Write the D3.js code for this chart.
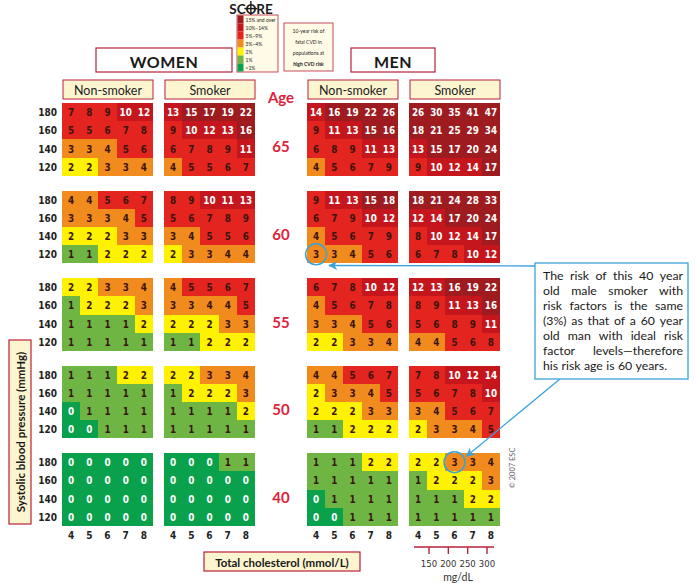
<!DOCTYPE html>
<html>
<head>
<meta charset="utf-8">
<script src="https://d3js.org/d3.v7.min.js"></script>
<style>
  body { margin: 0; background: #fff; }
  svg text { font-family: Lato, "Open Sans", sans-serif; }
  .num { font-family: "DejaVu Sans Condensed", "Open Sans", sans-serif; font-weight: bold; font-size: 9.8px; }
</style>
</head>
<body>
<script>
// rows = systolic 180,160,140,120 ; cols = cholesterol 4..8 ; one block per age
var ages = [65, 60, 55, 50, 40];
var pressures = [180, 160, 140, 120];
var cholesterol = [4, 5, 6, 7, 8];
var mgTicks = [150, 200, 250, 300];

var womenNonSmoker = [
  [[7,8,9,10,12],[5,5,6,7,8],[3,3,4,5,6],[2,2,3,3,4]],
  [[4,4,5,6,7],[3,3,3,4,5],[2,2,2,3,3],[1,1,2,2,2]],
  [[2,2,3,3,4],[1,2,2,2,3],[1,1,1,1,2],[1,1,1,1,1]],
  [[1,1,1,2,2],[1,1,1,1,1],[0,1,1,1,1],[0,0,1,1,1]],
  [[0,0,0,0,0],[0,0,0,0,0],[0,0,0,0,0],[0,0,0,0,0]]
];
var womenSmoker = [
  [[13,15,17,19,22],[9,10,12,13,16],[6,7,8,9,11],[4,5,5,6,7]],
  [[8,9,10,11,13],[5,6,7,8,9],[3,4,5,5,6],[2,3,3,4,4]],
  [[4,5,5,6,7],[3,3,4,4,5],[2,2,2,3,3],[1,1,2,2,2]],
  [[2,2,3,3,4],[1,2,2,2,3],[1,1,1,1,2],[1,1,1,1,1]],
  [[0,0,0,1,1],[0,0,0,0,0],[0,0,0,0,0],[0,0,0,0,0]]
];
var menNonSmoker = [
  [[14,16,19,22,26],[9,11,13,15,16],[6,8,9,11,13],[4,5,6,7,9]],
  [[9,11,13,15,18],[6,7,9,10,12],[4,5,6,7,9],[3,3,4,5,6]],
  [[6,7,8,10,12],[4,5,6,7,8],[3,3,4,5,6],[2,2,3,3,4]],
  [[4,4,5,6,7],[2,3,3,4,5],[2,2,2,3,3],[1,1,2,2,2]],
  [[1,1,1,2,2],[1,1,1,1,1],[0,1,1,1,1],[0,0,1,1,1]]
];
var menSmoker = [
  [[26,30,35,41,47],[18,21,25,29,34],[13,15,17,20,24],[9,10,12,14,17]],
  [[18,21,24,28,33],[12,14,17,20,24],[8,10,12,14,17],[6,7,8,10,12]],
  [[12,13,16,19,22],[8,9,11,13,16],[5,6,8,9,11],[4,4,5,6,8]],
  [[7,8,10,12,14],[5,6,7,8,10],[3,4,5,6,7],[2,3,3,4,5]],
  [[2,2,3,3,4],[1,2,2,2,3],[1,1,1,2,2],[1,1,1,1,1]]
];

var legendLabels = ["15% and over", "10%\u201314%", "5%\u20139%", "3%\u20134%", "2%", "1%", "<1%"];
var legendColors = ["#9e1b20", "#c4161c", "#e3241f", "#f18b1e", "#fff200", "#6fb544", "#0aa14c"];
var riskNote = ["10-year risk of", "fatal CVD in", "populations at", "high CVD risk"];
var noteLines = [
  "The risk of this 40 year",
  "old male smoker with",
  "risk factors is the same",
  "(3%) as that of a 60 year",
  "old man with ideal risk",
  "factor levels\u2014therefore",
  "his risk age is 60 years."
];

var W = 697, H = 583;
var boxRed = "#b8213a", cream = "#fdf5d0", ageRed = "#e0213a", blue = "#3aa3d8";

var svg = d3.select("body").append("svg")
  .attr("width", W).attr("height", H);

var color = d3.scaleThreshold()
  .domain([1, 2, 3, 5, 10, 15])
  .range(legendColors.slice().reverse());

var yAge = d3.scaleBand().domain(ages).range([103, 526]).paddingInner(0.166);
var yRow = d3.scaleBand().domain(pressures).range([0, yAge.bandwidth()]);

var panels = [
  { title: "Non-smoker", data: womenNonSmoker, x0: 62 },
  { title: "Smoker", data: womenSmoker, x0: 164 },
  { title: "Non-smoker", data: menNonSmoker, x0: 307 },
  { title: "Smoker", data: menSmoker, x0: 409 }
];
var panelW = 91;

panels.forEach(function (p) {
  var x = d3.scaleBand().domain(cholesterol).range([p.x0, p.x0 + panelW]);
  p.x = x;

  // header box
  svg.append("rect")
    .attr("x", p.x0 + 1).attr("y", 80).attr("width", panelW - 1).attr("height", 19)
    .attr("fill", cream).attr("stroke", boxRed).attr("stroke-width", 1);
  svg.append("text")
    .attr("x", p.x0 + panelW / 2 + 0.5).attr("y", 90)
    .attr("text-anchor", "middle").attr("dominant-baseline", "central")
    .style("font-size", "12.5px").style("fill", "#222")
    .text(p.title);

  var cells = [];
  ages.forEach(function (a, ai) {
    pressures.forEach(function (s, si) {
      cholesterol.forEach(function (c, ci) {
        cells.push({ age: a, sbp: s, chol: c, v: p.data[ai][si][ci] });
      });
    });
  });

  var g = svg.append("g");
  // background per block so same-colour cells join without seams
  g.selectAll("rect.cell").data(cells).enter().append("rect")
    .attr("class", "cell")
    .attr("shape-rendering", "crispEdges")
    .attr("x", function (d) { return x(d.chol); })
    .attr("y", function (d) { return yAge(d.age) + yRow(d.sbp); })
    .attr("width", function (d) { return d.chol === 8 ? x.bandwidth() : x.bandwidth() + 1; })
    .attr("height", function (d) { return d.sbp === 120 ? yRow.bandwidth() : yRow.bandwidth() + 1; })
    .attr("fill", function (d) { return color(d.v); });

  g.selectAll("text").data(cells).enter().append("text")
    .attr("class", "num")
    .attr("x", function (d) { return x(d.chol) + x.bandwidth() / 2; })
    .attr("y", function (d) { return yAge(d.age) + yRow(d.sbp) + yRow.bandwidth() / 2 + 0.5; })
    .attr("text-anchor", "middle").attr("dominant-baseline", "central")
    .style("fill", function (d) { return (d.v >= 10 || d.v === 0) ? "#fff" : "#3a1510"; })
    .text(function (d) { return d.v; });

  // cholesterol ticks
  svg.append("g").selectAll("text").data(cholesterol).enter().append("text")
    .attr("class", "num")
    .attr("x", function (d) { return x(d) + x.bandwidth() / 2; })
    .attr("y", 535)
    .attr("text-anchor", "middle").attr("dominant-baseline", "central")
    .style("font-size", "10px").style("fill", "#222")
    .text(function (d) { return d; });
});

// systolic labels
ages.forEach(function (a) {
  svg.append("g").selectAll("text").data(pressures).enter().append("text")
    .attr("class", "num")
    .attr("x", 57)
    .attr("y", function (d) { return yAge(a) + yRow(d) + yRow.bandwidth() / 2 + 0.5; })
    .attr("text-anchor", "end").attr("dominant-baseline", "central")
    .style("font-size", "10px").style("fill", "#222")
    .text(function (d) { return d; });
});

// age labels
svg.append("text")
  .attr("x", 281).attr("y", 97)
  .attr("text-anchor", "middle").attr("dominant-baseline", "central")
  .style("font-size", "15px").style("font-weight", "bold").style("fill", ageRed)
  .text("Age");
svg.append("g").selectAll("text").data(ages).enter().append("text")
  .attr("x", 281)
  .attr("y", function (d) { return yAge(d) + yAge.bandwidth() / 2 + 7; })
  .attr("text-anchor", "middle").attr("dominant-baseline", "central")
  .style("font-size", "15px").style("font-weight", "bold").style("fill", ageRed)
  .text(function (d) { return d; });

// WOMEN / MEN boxes
[{ t: "WOMEN", x: 96, w: 136 }, { t: "MEN", x: 351, w: 84 }].forEach(function (b) {
  svg.append("rect").attr("x", b.x).attr("y", 48).attr("width", b.w).attr("height", 24)
    .attr("fill", "#fff").attr("stroke", boxRed).attr("stroke-width", 1.2);
  svg.append("text").attr("x", b.x + b.w / 2).attr("y", 61)
    .attr("text-anchor", "middle").attr("dominant-baseline", "central")
    .style("font-size", "16px").style("font-weight", "bold").style("fill", "#1a1a1a")
    .style("letter-spacing", "0.5px")
    .text(b.t);
});

// y axis title
svg.append("rect").attr("x", 9).attr("y", 340).attr("width", 22).attr("height", 184)
  .attr("fill", cream).attr("stroke", boxRed).attr("stroke-width", 1.2);
svg.append("text")
  .attr("transform", "translate(20.5,432) rotate(-90)")
  .attr("text-anchor", "middle").attr("dominant-baseline", "central")
  .style("font-size", "11.5px").style("font-weight", "bold").style("fill", "#1a1a1a")
  .text("Systolic blood pressure (mmHg)");

// x axis title
svg.append("rect").attr("x", 204).attr("y", 552).attr("width", 156).attr("height", 19)
  .attr("fill", cream).attr("stroke", boxRed).attr("stroke-width", 1.2);
svg.append("text")
  .attr("x", 282).attr("y", 562)
  .attr("text-anchor", "middle").attr("dominant-baseline", "central")
  .style("font-size", "11.5px").style("font-weight", "bold").style("fill", "#1a1a1a")
  .text("Total cholesterol (mmol/L)");

// mg/dL scale
var mg = d3.scaleLinear().domain([150, 300]).range([429, 487]);
svg.append("line").attr("x1", 414).attr("x2", 494).attr("y1", 547).attr("y2", 547)
  .attr("stroke", boxRed).attr("stroke-width", 1.6);
svg.append("g").selectAll("line").data(mgTicks).enter().append("line")
  .attr("x1", function (d) { return mg(d); }).attr("x2", function (d) { return mg(d); })
  .attr("y1", 547).attr("y2", 554)
  .attr("stroke", boxRed).attr("stroke-width", 1.4);
svg.append("g").selectAll("text").data(mgTicks).enter().append("text")
  .attr("x", function (d) { return mg(d); }).attr("y", 563)
  .attr("text-anchor", "middle").attr("dominant-baseline", "central")
  .style("font-family", "'DejaVu Sans Condensed', sans-serif")
  .style("font-size", "9.5px").style("fill", "#333")
  .text(function (d) { return d; });
svg.append("text").attr("x", 458).attr("y", 577)
  .attr("text-anchor", "middle").attr("dominant-baseline", "central")
  .style("font-size", "10.5px").style("fill", "#333")
  .text("mg/dL");

// copyright
svg.append("text")
  .attr("transform", "translate(512,468) rotate(-90)")
  .attr("text-anchor", "middle").attr("dominant-baseline", "central")
  .style("font-size", "7.5px").style("fill", "#666")
  .text("\u00a9 2007 ESC");

// SCORE title with crosshair O
var st = svg.append("text").attr("x", 251).attr("y", 13.5)
  .attr("text-anchor", "middle")
  .style("font-size", "13.5px").style("font-weight", "bold").style("fill", "#1a1a1a")
  .text("SCORE");
var oBox = st.node().getExtentOfChar(2);
var ocx = oBox.x + oBox.width / 2, ocy = 8.6;
svg.append("line").attr("x1", ocx).attr("x2", ocx).attr("y1", 1).attr("y2", 16)
  .attr("stroke", "#1a1a1a").attr("stroke-width", 1.4);
svg.append("line").attr("x1", oBox.x - 1).attr("x2", oBox.x + oBox.width + 1).attr("y1", ocy).attr("y2", ocy)
  .attr("stroke", "#1a1a1a").attr("stroke-width", 1.4);

// legend
svg.append("rect").attr("x", 237).attr("y", 15).attr("width", 41).attr("height", 57)
  .attr("fill", "#fffbe6").attr("stroke", boxRed).attr("stroke-width", 0.8);
var ly = d3.scaleBand().domain(legendLabels).range([15.5, 71.5]);
svg.append("g").selectAll("rect").data(legendLabels).enter().append("rect")
  .attr("x", 237.5).attr("y", function (d) { return ly(d); })
  .attr("width", 6).attr("height", ly.bandwidth())
  .attr("fill", function (d, i) { return legendColors[i]; });
svg.append("g").selectAll("text").data(legendLabels).enter().append("text")
  .attr("x", 245.5).attr("y", function (d) { return ly(d) + ly.bandwidth() / 2; })
  .attr("dominant-baseline", "central")
  .style("font-size", "5px").style("fill", "#222")
  .text(function (d) { return d; });

svg.append("rect").attr("x", 284).attr("y", 23).attr("width", 49).attr("height", 48)
  .attr("fill", "#fffbe6").attr("stroke", boxRed).attr("stroke-width", 0.8);
svg.append("g").selectAll("text").data(riskNote).enter().append("text")
  .attr("x", 308.5).attr("y", function (d, i) { return 31 + i * 11; })
  .attr("text-anchor", "middle").attr("dominant-baseline", "central")
  .style("font-size", "5px").style("fill", "#222")
  .style("font-weight", function (d, i) { return i === 3 ? "bold" : "normal"; })
  .text(function (d) { return d; });

// callout
var ms = panels[3].x, mn = panels[2].x;
var c1 = { x: mn(4) + mn.bandwidth() / 2, y: yAge(60) + yRow(120) + yRow.bandwidth() / 2 };
var c2 = { x: ms(6) + ms.bandwidth() / 2, y: yAge(40) + yRow(180) + yRow.bandwidth() / 2 };

svg.append("defs").append("marker")
  .attr("id", "arr").attr("viewBox", "0 0 10 10").attr("refX", 9).attr("refY", 5)
  .attr("markerWidth", 9).attr("markerHeight", 7).attr("orient", "auto")
  .append("path").attr("d", "M0,0 L10,5 L0,10 L3,5 Z").attr("fill", blue);

svg.append("line").attr("x1", 535).attr("y1", 266).attr("x2", c1.x + 13).attr("y2", 265.5)
  .attr("stroke", blue).attr("stroke-width", 1.3).attr("marker-end", "url(#arr)");
svg.append("line").attr("x1", 560).attr("y1", 379).attr("x2", c2.x + 12).attr("y2", c2.y - 6)
  .attr("stroke", blue).attr("stroke-width", 1.3).attr("marker-end", "url(#arr)");

[c1, c2].forEach(function (c) {
  svg.append("circle").attr("cx", c.x).attr("cy", c.y).attr("r", 10.5)
    .attr("fill", "none").attr("stroke", blue).attr("stroke-width", 1.5);
});

svg.append("rect").attr("x", 535).attr("y", 263).attr("width", 153).attr("height", 116)
  .attr("fill", "#fff").attr("stroke", blue).attr("stroke-width", 1.3);

var noteLeft = 543, noteRight = 683;
noteLines.forEach(function (line, i) {
  var y = 275 + i * 15;
  var words = line.split(" ");
  var ts = words.map(function (w) {
    return svg.append("text").attr("y", y).attr("dominant-baseline", "central")
      .style("font-size", "12.3px").style("fill", "#1a1a1a").text(w);
  });
  var widths = ts.map(function (t) { return t.node().getComputedTextLength(); });
  var total = d3.sum(widths);
  var gap = (i === noteLines.length - 1) ? 3.4 : (noteRight - noteLeft - total) / (words.length - 1);
  var cx = noteLeft;
  ts.forEach(function (t, k) { t.attr("x", cx); cx += widths[k] + gap; });
});
</script>
</body>
</html>
